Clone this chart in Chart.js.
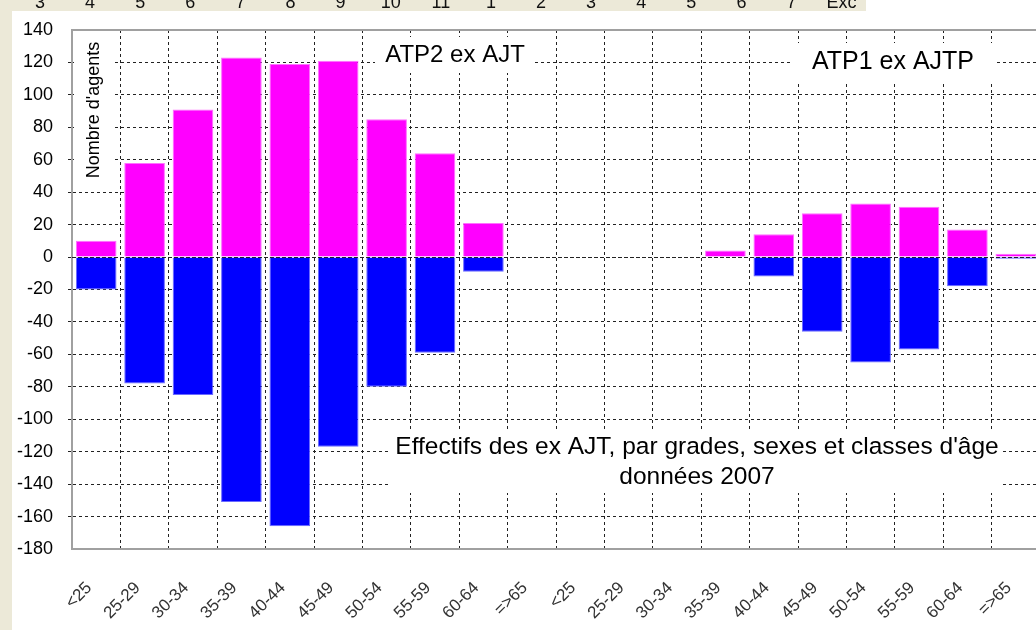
<!DOCTYPE html>
<html>
<head>
<meta charset="utf-8">
<script src="https://cdn.jsdelivr.net/npm/chart.js@4"></script>
<style>
html, body { margin: 0; padding: 0; background: #fff; overflow: hidden; }
#wrap { position: absolute; left: 0; top: 0; width: 1042px; height: 630px; }
</style>
</head>
<body>
<div id="wrap"><canvas id="chart"></canvas></div>
<script>
// Classes d'âge (deux groupes : ATP2 ex AJT puis ATP1 ex AJTP)
const ageClasses = ['<25', '25-29', '30-34', '35-39', '40-44', '45-49', '50-54', '55-59', '60-64', '=>65'];
const categories = ageClasses.concat(ageClasses);

// valeurs
const serieRose = [10, 58, 91, 123, 119, 121, 85, 64, 21, 0, 0, 0, 0, 4, 14, 27, 33, 31, 17, 2];
const serieBleue = [-20, -78, -85, -151, -166, -117, -80, -59, -9, 0, 0, 0, 0, 0, -12, -46, -65, -57, -18, -1];

const yMin = -180;
const yMax = 140;
const yStep = 20;

// étiquettes du graphique voisin (coupé en haut de l'image)
const topLabels = ['3', '4', '5', '6', '7', '8', '9', '10', '11', '1', '2', '3', '4', '5', '6', '7', 'Exc'];

const groupTitles = ['ATP2 ex AJT', 'ATP1 ex AJTP'];
const yTitle = "Nombre d'agents";
const chartTitle = ["Effectifs des ex AJT, par grades, sexes et classes d'âge", 'données 2007'];

const FONT = '"Liberation Sans", Arial, sans-serif';

const decor = {
    id: 'decor',
    beforeDraw(chart) {
        const ctx = chart.ctx;
        ctx.save();
        ctx.fillStyle = '#fff';
        ctx.fillRect(0, 0, chart.width, chart.height);
        ctx.fillStyle = '#ece9d8';
        ctx.fillRect(0, 0, 866, 11);
        ctx.fillRect(0, 0, 12, chart.height);
        ctx.font = '18px ' + FONT;
        ctx.fillStyle = '#111';
        ctx.textAlign = 'center';
        ctx.textBaseline = 'alphabetic';
        topLabels.forEach((t, i) => ctx.fillText(t, 40 + i * 50.1, 8));
        ctx.restore();
    },
    afterDatasetsDraw(chart) {
        const { ctx, chartArea: a, scales: { y } } = chart;
        ctx.save();

        // ligne du zéro par-dessus les barres
        const y0 = Math.round(y.getPixelForValue(0)) + 0.5;
        ctx.strokeStyle = '#222';
        ctx.lineWidth = 1;
        ctx.setLineDash([3, 3]);
        ctx.beginPath();
        ctx.moveTo(a.left, y0);
        ctx.lineTo(a.right, y0);
        ctx.stroke();
        ctx.setLineDash([]);

        // bord haut du cadre
        ctx.strokeStyle = '#a0a0a0';
        ctx.lineWidth = 2;
        ctx.beginPath();
        ctx.moveTo(a.left, a.top);
        ctx.lineTo(a.right, a.top);
        ctx.stroke();

        // cartouches blancs
        ctx.fillStyle = '#fff';
        ctx.fillRect(375, 37, 160, 36);
        ctx.fillRect(790, 43, 205, 38);
        ctx.fillRect(74, 34, 40, 154);
        ctx.fillRect(388, 430, 612, 63);

        ctx.fillStyle = '#000';
        ctx.textAlign = 'center';
        ctx.textBaseline = 'middle';
        ctx.font = '24px ' + FONT;
        ctx.fillText(groupTitles[0], 455, 55);
        ctx.font = '25px ' + FONT;
        ctx.fillText(groupTitles[1], 893, 62);

        ctx.font = '24.5px ' + FONT;
        ctx.fillText(chartTitle[0], 697, 447);
        ctx.fillText(chartTitle[1], 697, 477);

        ctx.save();
        ctx.translate(94, 110);
        ctx.rotate(-Math.PI / 2);
        ctx.font = '18px ' + FONT;
        ctx.fillText(yTitle, 0, 0);
        ctx.restore();

        ctx.restore();
    }
};

const ctx = document.getElementById('chart').getContext('2d');
new Chart(ctx, {
    type: 'bar',
    data: {
        labels: categories,
        datasets: [{
            data: serieRose,
            backgroundColor: '#ff00ff',
            borderColor: '#ff70ff',
            borderWidth: 1,
            barPercentage: 0.84,
            categoryPercentage: 1
        }, {
            data: serieBleue,
            backgroundColor: '#0000ff',
            borderColor: '#6a6aff',
            borderWidth: 1,
            barPercentage: 0.84,
            categoryPercentage: 1
        }]
    },
    options: {
        responsive: true,
        maintainAspectRatio: false,
        animation: false,
        layout: {
            padding: { top: 30, right: 2, left: 0, bottom: 0 }
        },
        scales: {
            x: {
                stacked: true,
                grid: {
                    offset: true,
                    color: '#222',
                    lineWidth: 1,
                    drawTicks: false
                },
                border: { color: '#a0a0a0', width: 2, dash: [3, 3] },
                ticks: {
                    autoSkip: false,
                    minRotation: 45,
                    maxRotation: 45,
                    padding: 29,
                    labelOffset: -7,
                    color: '#333',
                    font: { family: FONT, size: 17 }
                },
                afterFit(axis) {
                    axis.height = 81;
                    axis.paddingLeft = 0;
                    axis.paddingRight = 0;
                }
            },
            y: {
                stacked: true,
                min: yMin,
                max: yMax,
                grid: {
                    color: c => (c.tick && (c.tick.value === yMax || c.tick.value === yMin)) ? 'rgba(0,0,0,0)' : '#222',
                    lineWidth: 1,
                    tickLength: 4
                },
                border: { color: '#a0a0a0', width: 2, dash: [3, 3] },
                ticks: {
                    stepSize: yStep,
                    padding: 15,
                    color: '#000',
                    font: { family: FONT, size: 18 }
                },
                afterFit(axis) { axis.width = 72; }
            }
        },
        plugins: {
            legend: { display: false },
            tooltip: { enabled: false }
        }
    },
    plugins: [decor]
});
</script>
</body>
</html>
